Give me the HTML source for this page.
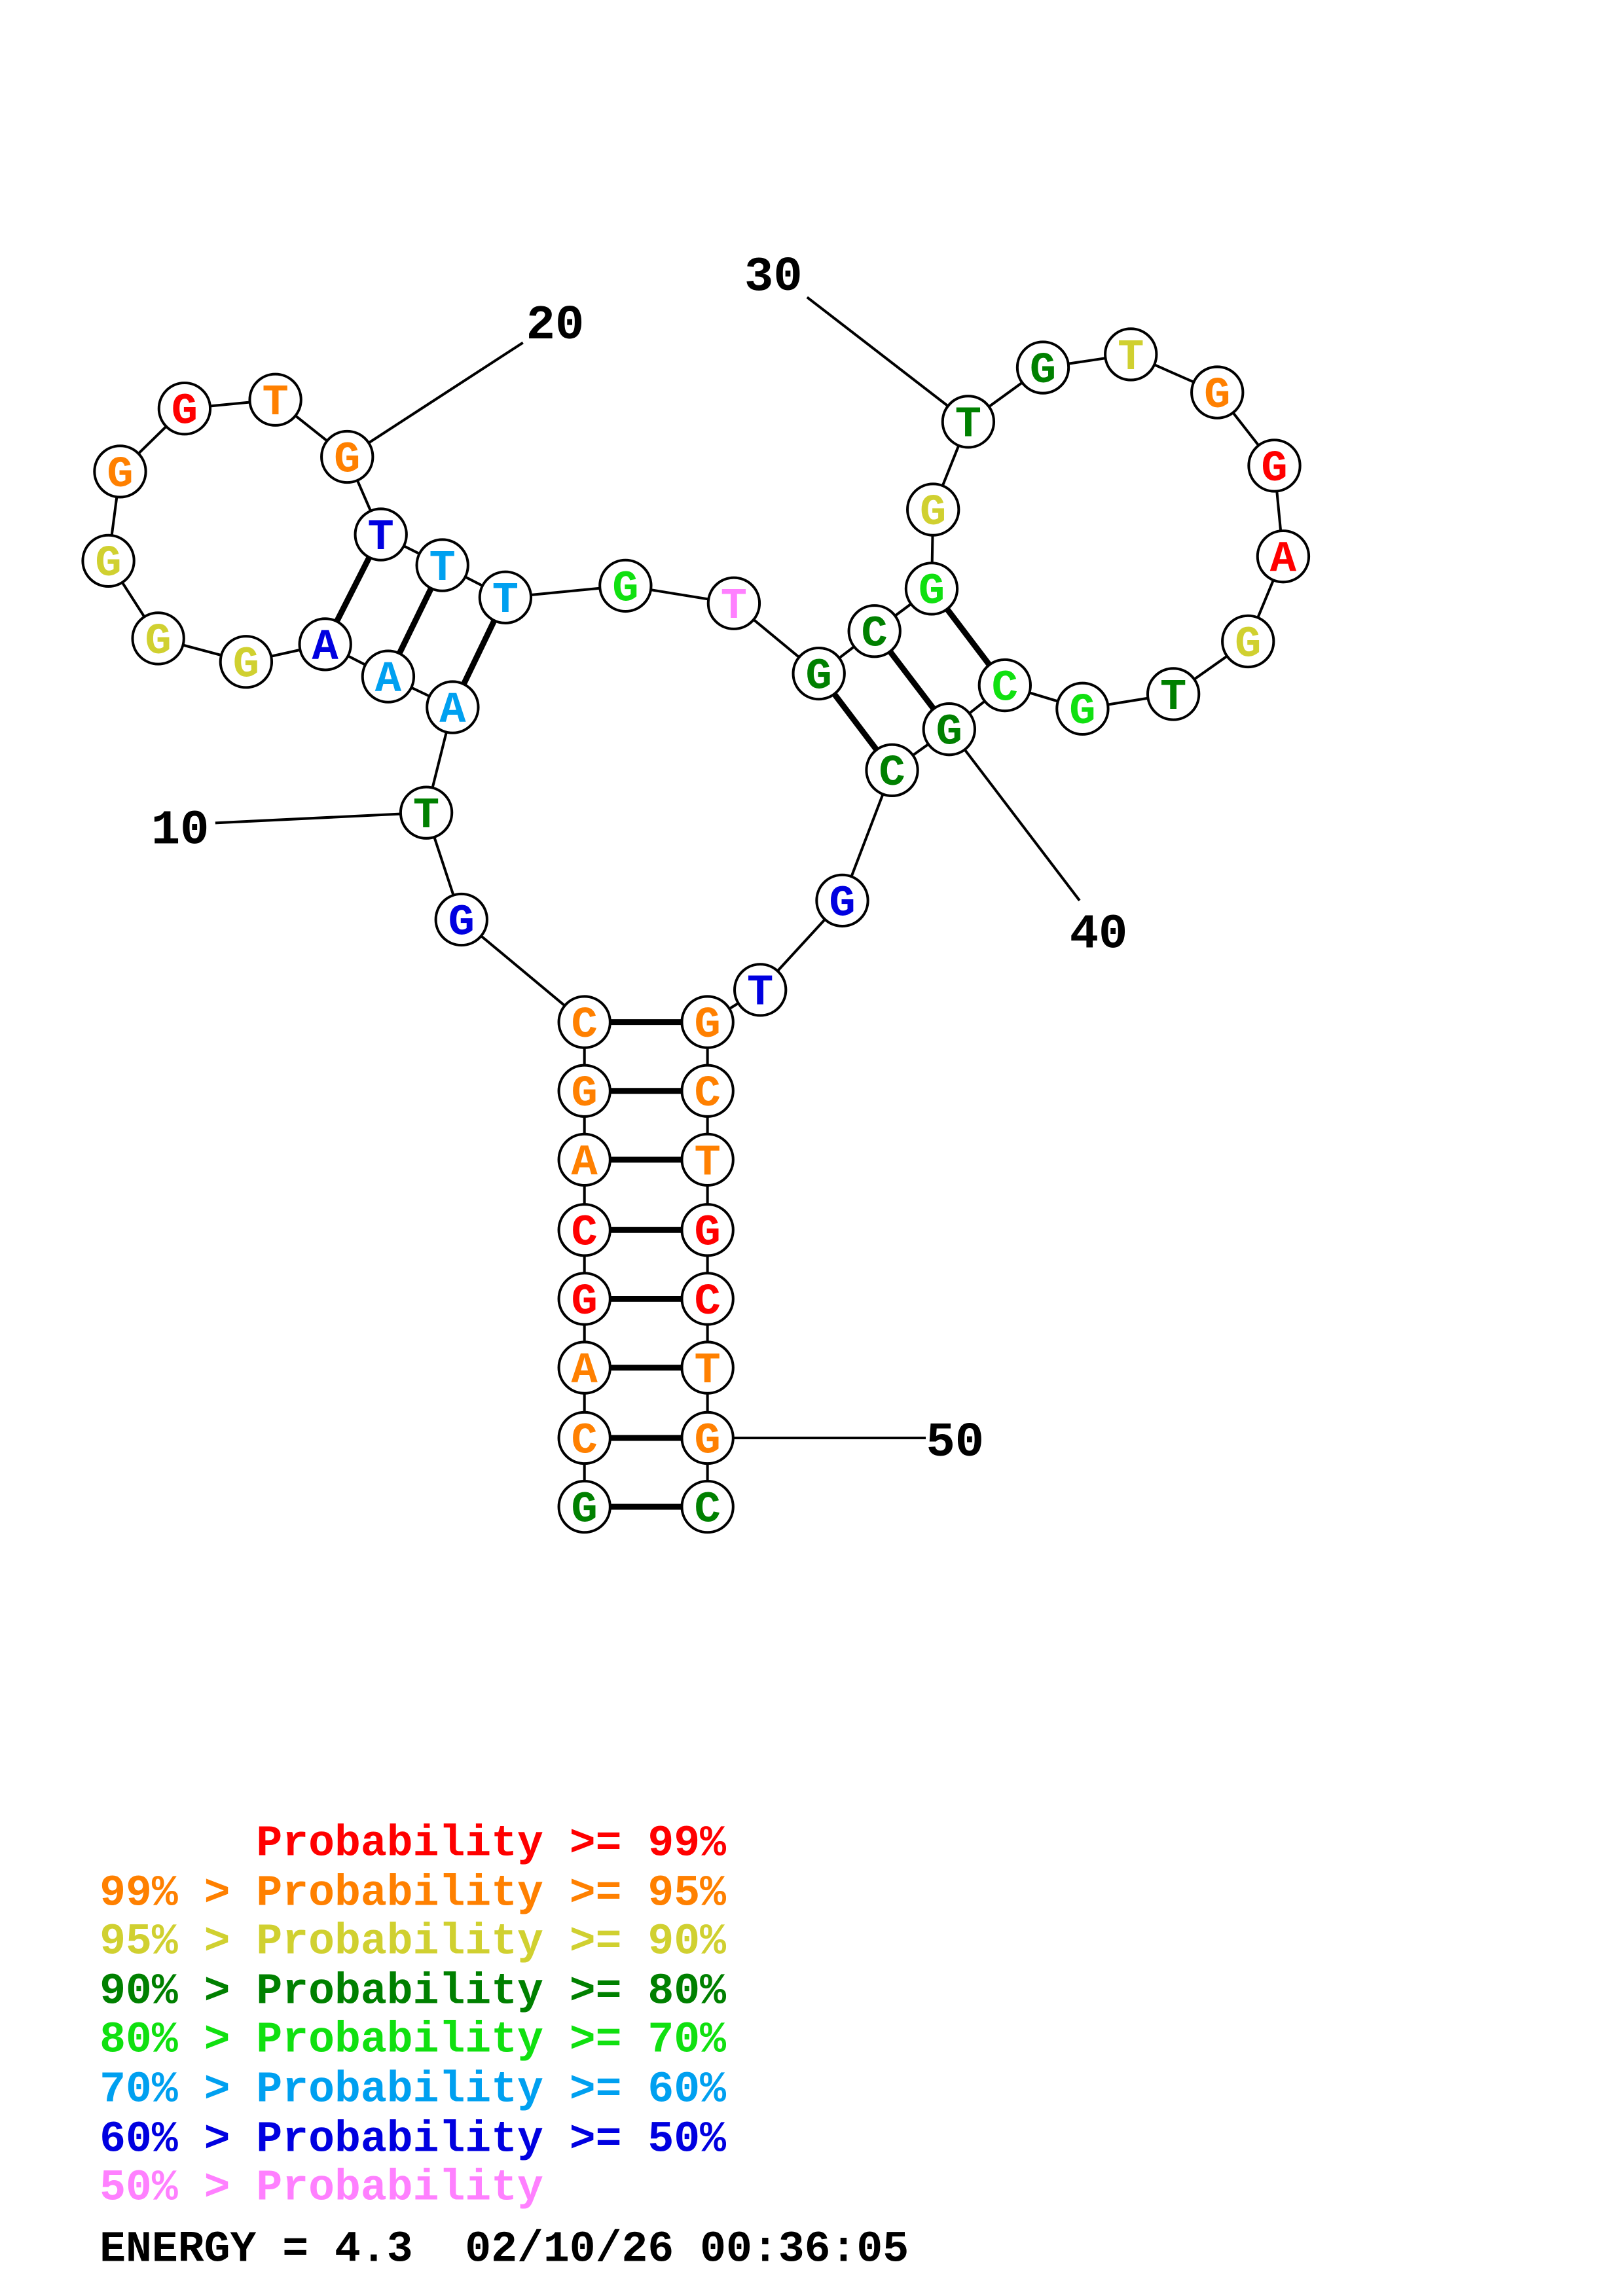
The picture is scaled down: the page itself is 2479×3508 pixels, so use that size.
<!DOCTYPE html>
<html><head><meta charset="utf-8"><style>
html,body{margin:0;padding:0;background:#fff;}
svg{display:block;}
.n{font-family:"Liberation Mono","DejaVu Sans Mono",monospace;font-weight:bold;font-size:30px;text-anchor:middle;}
.l{font-family:"Liberation Mono","DejaVu Sans Mono",monospace;font-weight:bold;font-size:29.7px;}
.m{font-family:"Liberation Mono","DejaVu Sans Mono",monospace;font-weight:bold;font-size:33px;text-anchor:middle;}
</style></head><body>
<svg width="2479" height="3508" viewBox="0 0 1108 1568" preserveAspectRatio="none" xmlns="http://www.w3.org/2000/svg">
<rect width="1108" height="1568" fill="#fff"/>
<g stroke="#000" stroke-width="1.8" fill="none">
<polyline points="399,1029 399,982 399,934 399,887 399,840 399,792 399,745 399,698 315,628 291,555 309,483 265,462 222,440 168,452 108,436 74,383 82,322 126,279 188,273 237,312 260,365 302,386 345,408 427,400 501,412 559,460 597,431 636,402 637,348 661,288 712,251 772,242 831,268 870,318 876,380 852,438 801,474 739,484 686,468 648,498 609,526 575,615 519,676 483,698 483,745 483,792 483,840 483,887 483,934 483,982 483,1029"/>
<line x1="147" y1="562" x2="291" y2="555"/>
<line x1="357" y1="234" x2="237" y2="312"/>
<line x1="551" y1="203" x2="661" y2="288"/>
<line x1="737" y1="615" x2="648" y2="498"/>
<line x1="632" y1="982" x2="483" y2="982"/>
</g>
<g stroke="#000" stroke-width="4">
<line x1="399" y1="1029" x2="483" y2="1029"/><line x1="399" y1="982" x2="483" y2="982"/>
<line x1="399" y1="934" x2="483" y2="934"/><line x1="399" y1="887" x2="483" y2="887"/>
<line x1="399" y1="840" x2="483" y2="840"/><line x1="399" y1="792" x2="483" y2="792"/>
<line x1="399" y1="745" x2="483" y2="745"/><line x1="399" y1="698" x2="483" y2="698"/>
<line x1="309" y1="483" x2="345" y2="408"/><line x1="265" y1="462" x2="302" y2="386"/>
<line x1="222" y1="440" x2="260" y2="365"/>
<line x1="559" y1="460" x2="609" y2="526"/><line x1="597" y1="431" x2="648" y2="498"/>
<line x1="636" y1="402" x2="686" y2="468"/>
</g>
<g stroke="#000" stroke-width="1.8" fill="#fff">
<circle cx="399" cy="1029" r="17.5"/><circle cx="399" cy="982" r="17.5"/><circle cx="399" cy="934" r="17.5"/><circle cx="399" cy="887" r="17.5"/><circle cx="399" cy="840" r="17.5"/><circle cx="399" cy="792" r="17.5"/><circle cx="399" cy="745" r="17.5"/><circle cx="399" cy="698" r="17.5"/>
<circle cx="315" cy="628" r="17.5"/><circle cx="291" cy="555" r="17.5"/><circle cx="309" cy="483" r="17.5"/><circle cx="265" cy="462" r="17.5"/><circle cx="222" cy="440" r="17.5"/><circle cx="168" cy="452" r="17.5"/><circle cx="108" cy="436" r="17.5"/><circle cx="74" cy="383" r="17.5"/><circle cx="82" cy="322" r="17.5"/><circle cx="126" cy="279" r="17.5"/><circle cx="188" cy="273" r="17.5"/><circle cx="237" cy="312" r="17.5"/><circle cx="260" cy="365" r="17.5"/><circle cx="302" cy="386" r="17.5"/><circle cx="345" cy="408" r="17.5"/><circle cx="427" cy="400" r="17.5"/><circle cx="501" cy="412" r="17.5"/><circle cx="559" cy="460" r="17.5"/><circle cx="597" cy="431" r="17.5"/><circle cx="636" cy="402" r="17.5"/><circle cx="637" cy="348" r="17.5"/><circle cx="661" cy="288" r="17.5"/><circle cx="712" cy="251" r="17.5"/><circle cx="772" cy="242" r="17.5"/><circle cx="831" cy="268" r="17.5"/><circle cx="870" cy="318" r="17.5"/><circle cx="876" cy="380" r="17.5"/><circle cx="852" cy="438" r="17.5"/><circle cx="801" cy="474" r="17.5"/><circle cx="739" cy="484" r="17.5"/><circle cx="686" cy="468" r="17.5"/><circle cx="648" cy="498" r="17.5"/><circle cx="609" cy="526" r="17.5"/><circle cx="575" cy="615" r="17.5"/><circle cx="519" cy="676" r="17.5"/>
<circle cx="483" cy="698" r="17.5"/><circle cx="483" cy="745" r="17.5"/><circle cx="483" cy="792" r="17.5"/><circle cx="483" cy="840" r="17.5"/><circle cx="483" cy="887" r="17.5"/><circle cx="483" cy="934" r="17.5"/><circle cx="483" cy="982" r="17.5"/><circle cx="483" cy="1029" r="17.5"/>
</g>
<g class="n">
<text x="399" y="1039" fill="#008000">G</text>
<text x="399" y="992" fill="#ff8000">C</text>
<text x="399" y="944" fill="#ff8000">A</text>
<text x="399" y="897" fill="#f00">G</text>
<text x="399" y="850" fill="#f00">C</text>
<text x="399" y="802" fill="#ff8000">A</text>
<text x="399" y="755" fill="#ff8000">G</text>
<text x="399" y="708" fill="#ff8000">C</text>
<text x="315" y="638" fill="#0000e0">G</text>
<text x="291" y="565" fill="#008000">T</text>
<text x="309" y="493" fill="#00a0f0">A</text>
<text x="265" y="472" fill="#00a0f0">A</text>
<text x="222" y="450" fill="#0000e0">A</text>
<text x="168" y="462" fill="#d0d030">G</text>
<text x="108" y="446" fill="#d0d030">G</text>
<text x="74" y="393" fill="#d0d030">G</text>
<text x="82" y="332" fill="#ff8000">G</text>
<text x="126" y="289" fill="#f00">G</text>
<text x="188" y="283" fill="#ff8000">T</text>
<text x="237" y="322" fill="#ff8000">G</text>
<text x="260" y="375" fill="#0000e0">T</text>
<text x="302" y="396" fill="#00a0f0">T</text>
<text x="345" y="418" fill="#00a0f0">T</text>
<text x="427" y="410" fill="#10e010">G</text>
<text x="501" y="422" fill="#ff80ff">T</text>
<text x="559" y="470" fill="#008000">G</text>
<text x="597" y="441" fill="#008000">C</text>
<text x="636" y="412" fill="#10e010">G</text>
<text x="637" y="358" fill="#d0d030">G</text>
<text x="661" y="298" fill="#008000">T</text>
<text x="712" y="261" fill="#008000">G</text>
<text x="772" y="252" fill="#d0d030">T</text>
<text x="831" y="278" fill="#ff8000">G</text>
<text x="870" y="328" fill="#f00">G</text>
<text x="876" y="390" fill="#f00">A</text>
<text x="852" y="448" fill="#d0d030">G</text>
<text x="801" y="484" fill="#008000">T</text>
<text x="739" y="494" fill="#10e010">G</text>
<text x="686" y="478" fill="#10e010">C</text>
<text x="648" y="508" fill="#008000">G</text>
<text x="609" y="536" fill="#008000">C</text>
<text x="575" y="625" fill="#0000e0">G</text>
<text x="519" y="686" fill="#0000e0">T</text>
<text x="483" y="708" fill="#ff8000">G</text>
<text x="483" y="755" fill="#ff8000">C</text>
<text x="483" y="802" fill="#ff8000">T</text>
<text x="483" y="850" fill="#f00">G</text>
<text x="483" y="897" fill="#f00">C</text>
<text x="483" y="944" fill="#ff8000">T</text>
<text x="483" y="992" fill="#ff8000">G</text>
<text x="483" y="1039" fill="#008000">C</text>
</g>
<g class="m" fill="#000">
<text x="123" y="576">10</text>
<text x="379" y="231">20</text>
<text x="528" y="198">30</text>
<text x="750" y="647">40</text>
<text x="652" y="994">50</text>
</g>
<g class="l">
<text x="68" y="1267" fill="#f00" xml:space="preserve">      Probability &gt;= 99%</text>
<text x="68" y="1301" fill="#ff8000" xml:space="preserve">99% &gt; Probability &gt;= 95%</text>
<text x="68" y="1334" fill="#d0d030" xml:space="preserve">95% &gt; Probability &gt;= 90%</text>
<text x="68" y="1368" fill="#008000" xml:space="preserve">90% &gt; Probability &gt;= 80%</text>
<text x="68" y="1401" fill="#10e010" xml:space="preserve">80% &gt; Probability &gt;= 70%</text>
<text x="68" y="1435" fill="#00a0f0" xml:space="preserve">70% &gt; Probability &gt;= 60%</text>
<text x="68" y="1469" fill="#0000e0" xml:space="preserve">60% &gt; Probability &gt;= 50%</text>
<text x="68" y="1502" fill="#ff80ff" xml:space="preserve">50% &gt; Probability</text>
<text x="68" y="1544" fill="#000" xml:space="preserve">ENERGY = 4.3  02/10/26 00:36:05</text>
</g>
</svg>
</body></html>
